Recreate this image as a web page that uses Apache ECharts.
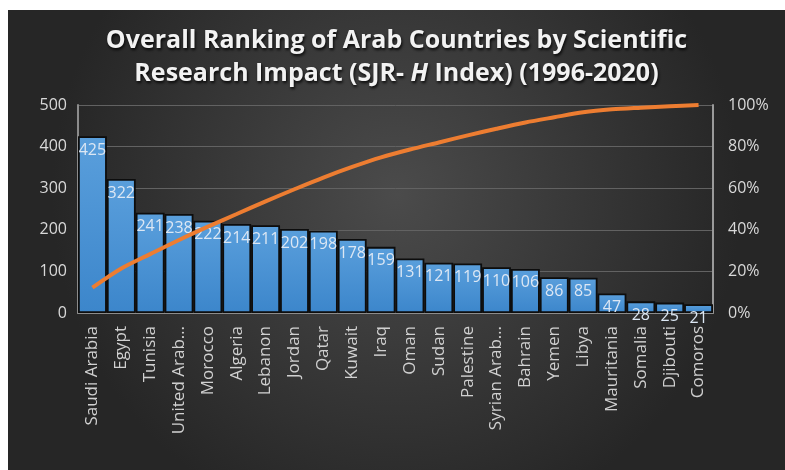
<!DOCTYPE html>
<html>
<head>
<meta charset="utf-8">
<script src="https://cdn.jsdelivr.net/npm/echarts@6/dist/echarts.min.js"></script>
<style>
  html, body { margin: 0; padding: 0; background: #fff; }
  #main { position: absolute; left: 8px; top: 10px; width: 777px; height: 460px; }
</style>
</head>
<body>
<div id="main"></div>
<script>
// categories and values
var countries = ['Saudi Arabia', 'Egypt', 'Tunisia', 'United Arab…', 'Morocco', 'Algeria', 'Lebanon',
  'Jordan', 'Qatar', 'Kuwait', 'Iraq', 'Oman', 'Sudan', 'Palestine', 'Syrian Arab…', 'Bahrain',
  'Yemen', 'Libya', 'Mauritania', 'Somalia', 'Djibouti', 'Comoros']
var hIndex = [425, 322, 241, 238, 222, 214, 211, 202, 198, 178, 159, 131, 121, 119, 110, 106, 86, 85, 47, 28, 25, 21]
// cumulative share (%)
var cumulative = [12.2, 21.4, 28.3, 35.1, 41.5, 47.6, 53.7, 59.5, 65.1, 70.2, 74.8, 78.6, 82.0, 85.4,
  88.6, 91.6, 94.1, 96.5, 97.9, 98.7, 99.4, 100]
var leftTicks = [0, 500, 100]
var rightTicks = [0, 100, 20]

var myChart = echarts.init(document.getElementById('main'))

var font = 'Open Sans'
var shadow = { textShadowColor: 'rgba(0,0,0,0.85)', textShadowBlur: 3, textShadowOffsetX: 1, textShadowOffsetY: 2 }
var titleText = Object.assign({ color: '#f2f2f2', fontFamily: font, fontWeight: 'bold', fontSize: 25, lineHeight: 33 }, shadow)

myChart.setOption({
  backgroundColor: {
    type: 'radial', x: 0.5, y: 0.4, r: 0.75,
    colorStops: [{ offset: 0, color: '#4b4b4b' }, { offset: 1, color: '#262626' }]
  },
  title: {
    left: 'center',
    top: 9,
    text: 'Overall Ranking of Arab Countries by Scientific\n{n|Research Impact (SJR- }{i|H}{n| Index) (1996-2020)}',
    textStyle: Object.assign({}, titleText, {
      rich: {
        n: titleText,
        i: Object.assign({}, titleText, { fontStyle: 'italic' })
      }
    })
  },
  grid: { left: 70, right: 72, top: 95, bottom: 157 },
  xAxis: {
    type: 'category',
    data: countries,
    axisTick: { show: false },
    axisLine: { lineStyle: { color: '#8c8c8c', width: 2 } },
    axisLabel: { rotate: 90, interval: 0, color: '#d0d0d0', fontFamily: font, fontSize: 17, margin: 13 }
  },
  yAxis: [{
    type: 'value', min: leftTicks[0], max: leftTicks[1], interval: leftTicks[2],
    axisLine: { show: true, lineStyle: { color: '#8c8c8c', width: 2 } },
    axisLabel: { color: '#d9d9d9', fontFamily: font, fontSize: 16, margin: 11 },
    splitLine: { lineStyle: { color: '#626262', width: 1 } }
  }, {
    type: 'value', min: rightTicks[0], max: rightTicks[1], interval: rightTicks[2],
    axisLine: { show: true, lineStyle: { color: '#9a9a9a', width: 2 } },
    axisLabel: { color: '#d9d9d9', fontFamily: font, fontSize: 16, margin: 15, formatter: '{value}%' },
    splitLine: { show: false }
  }],
  series: [{
    name: 'H Index',
    type: 'bar',
    data: hIndex,
    barWidth: '100%',
    itemStyle: {
      color: {
        type: 'linear', x: 0, y: 0, x2: 0, y2: 1,
        colorStops: [{ offset: 0, color: '#5a9fdc' }, { offset: 1, color: '#3c86cb' }]
      },
      borderColor: '#0d0d0d',
      borderWidth: 1.8
    },
    label: {
      show: true, position: 'insideTop', distance: 6,
      color: '#dce7f4', fontFamily: font, fontSize: 16
    }
  }, {
    name: 'Cumulative',
    type: 'line',
    yAxisIndex: 1,
    data: cumulative,
    smooth: 0.3,
    showSymbol: false,
    lineStyle: { color: '#ed7d31', width: 4 },
    z: 5
  }]
})
</script>
</body>
</html>
